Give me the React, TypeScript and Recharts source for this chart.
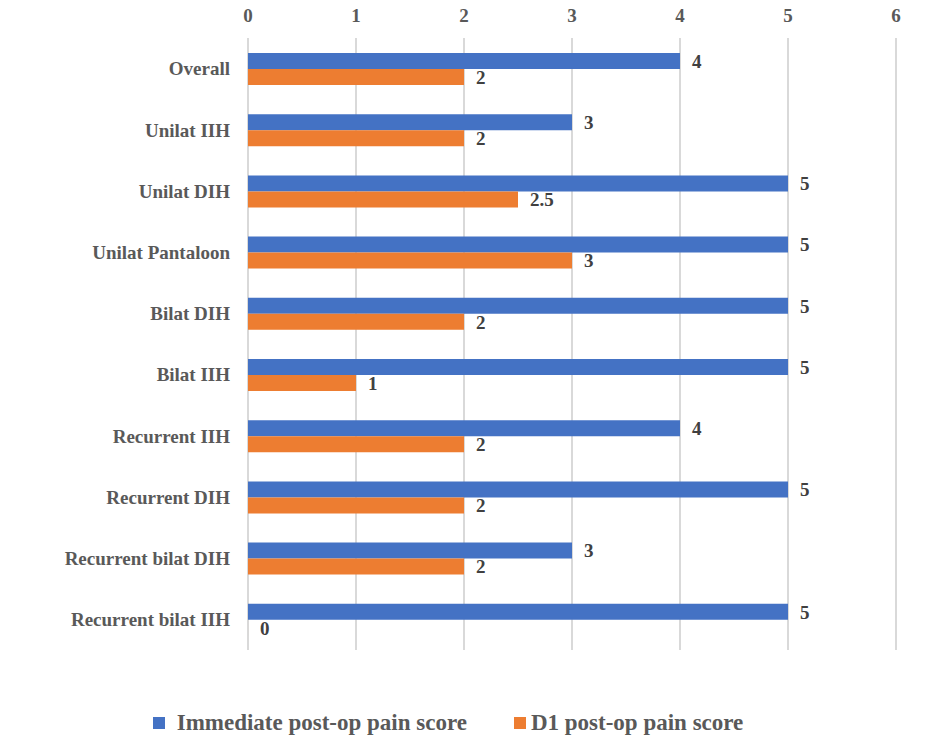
import React from 'react'
import { BarChart, Bar, XAxis, YAxis, CartesianGrid, Legend, LabelList } from 'recharts'

const categories = [
  'Overall',
  'Unilat IIH',
  'Unilat DIH',
  'Unilat Pantaloon',
  'Bilat DIH',
  'Bilat IIH',
  'Recurrent IIH',
  'Recurrent DIH',
  'Recurrent bilat DIH',
  'Recurrent bilat IIH'
]
const immediateScores = [4, 3, 5, 5, 5, 5, 4, 5, 3, 5]
const d1Scores = [2, 2, 2.5, 3, 2, 1, 2, 2, 2, 0]
const xTicks = [0, 1, 2, 3, 4, 5, 6]
const seriesNames = ['Immediate post-op pain score', 'D1 post-op pain score']

const data = categories.map((name, i) => ({
  name,
  immediate: immediateScores[i],
  d1: d1Scores[i]
}))

const FONT = '"Times New Roman", Times, "Liberation Serif", "DejaVu Serif", serif'

const renderLegend = (props: any) => {
  const payload = [...props.payload].sort(
    (a: any, b: any) => seriesNames.indexOf(a.value) - seriesNames.indexOf(b.value)
  )
  return (
    <div style={{ display: 'flex', justifyContent: 'center', fontFamily: FONT }}>
      {payload.map((entry: any, i: number) => (
        <div
          key={entry.value}
          style={{ display: 'flex', alignItems: 'center', marginLeft: i === 0 ? 0 : 47 }}
        >
          <span
            style={{
              display: 'inline-block',
              width: 12,
              height: 12,
              background: entry.color,
              marginRight: i === 0 ? 12 : 5
            }}
          />
          <span style={{ fontSize: 23, fontWeight: 'bold', color: '#595959' }}>{entry.value}</span>
        </div>
      ))}
    </div>
  )
}

const App: React.FC = () => {
  return (
    <div style={{ position: 'absolute', left: 0, top: 0, background: '#fff', fontFamily: FONT }}>
      <BarChart
        width={932}
        height={750}
        data={data}
        layout="vertical"
        margin={{ top: 0, right: 36, bottom: 74, left: 0 }}
        barSize={16}
        barGap={0}
      >
        <CartesianGrid horizontal={false} stroke="#d9d9d9" strokeWidth={2} />
        <XAxis
          type="number"
          orientation="top"
          domain={[0, 6]}
          ticks={xTicks}
          axisLine={false}
          tickLine={false}
          height={38}
          tickMargin={10}
          tick={{ fontFamily: FONT, fontSize: 19, fontWeight: 'bold', fill: '#595959' }}
        />
        <YAxis
          type="category"
          dataKey="name"
          width={248}
          axisLine={false}
          tickLine={false}
          tickMargin={12}
          tick={{ fontFamily: FONT, fontSize: 19, fontWeight: 'bold', fill: '#595959' }}
        />
        <Legend verticalAlign="bottom" content={renderLegend} wrapperStyle={{ bottom: 14 }} />
        <Bar dataKey="immediate" name={seriesNames[0]} fill="#4472C4" isAnimationActive={false}>
          <LabelList
            dataKey="immediate"
            position="right"
            offset={12}
            style={{ fontFamily: FONT, fontSize: 19, fontWeight: 'bold', fill: '#404040' }}
          />
        </Bar>
        <Bar dataKey="d1" name={seriesNames[1]} fill="#ED7D31" minPointSize={0.01} isAnimationActive={false}>
          <LabelList
            dataKey="d1"
            position="right"
            offset={12}
            style={{ fontFamily: FONT, fontSize: 19, fontWeight: 'bold', fill: '#404040' }}
          />
        </Bar>
      </BarChart>
    </div>
  )
}

export default App
